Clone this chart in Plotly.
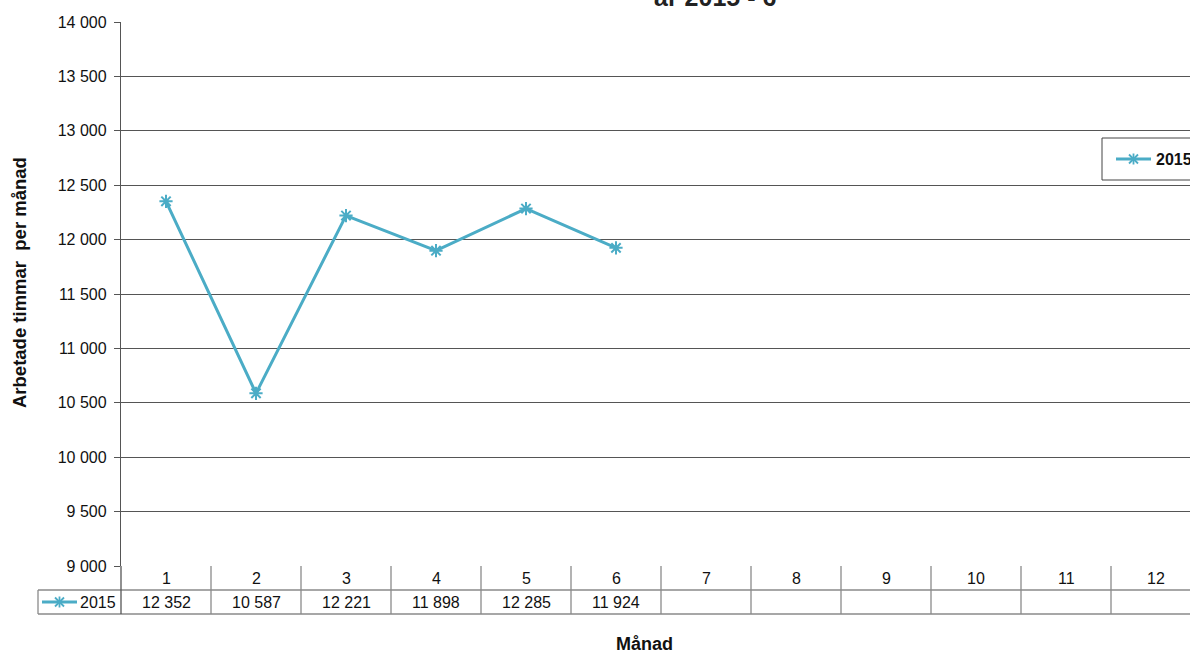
import plotly.graph_objects as go

# ---- data ----
months = [1, 2, 3, 4, 5, 6, 7, 8, 9, 10, 11, 12]
hours_2015 = [12352, 10587, 12221, 11898, 12285, 11924]
series_name = "2015"
y_ticks = [9000, 9500, 10000, 10500, 11000, 11500, 12000, 12500, 13000, 13500, 14000]
title_text = "år 2015 - 6"
x_title = "Månad"
y_title = "Arbetade timmar  per månad"

# ---- layout constants (pixels) ----
W, H = 1190, 653
L, R, T, B = 121, 0, 22, 87
PW, PH = W - L - R, H - T - B
COLW = 90.0
COLOR = "#4bacc6"
GRID = "#555555"
TABLE = "#8a8a8a"
FONT = "Liberation Sans, Arial, sans-serif"
TXT = "#111111"


def px(xp):
    return (xp - L) / PW


def py(yp):
    return (T + PH - yp) / PH


def fmt(v):
    return f"{v:,}".replace(",", " ")


fig = go.Figure()

fig.add_trace(go.Scatter(
    x=months[:len(hours_2015)], y=hours_2015, mode="lines+markers",
    line=dict(color=COLOR, width=3),
    marker=dict(symbol="asterisk-open", size=11, color=COLOR, line=dict(color=COLOR, width=2)),
    showlegend=False, name=series_name,
))

shapes = []


def key_symbol(x0, x1, yc):
    xc = (x0 + x1) / 2
    shapes.append(dict(type="line", xref="paper", yref="paper", x0=px(x0), x1=px(x1),
                       y0=py(yc), y1=py(yc), line=dict(color=COLOR, width=3)))
    for (ax, ay, bx, by) in [(0, -5.5, 0, 5.5), (-4.5, -4.5, 4.5, 4.5), (-4.5, 4.5, 4.5, -4.5)]:
        shapes.append(dict(type="line", xref="paper", yref="paper",
                           x0=px(xc + ax), x1=px(xc + bx), y0=py(yc + ay), y1=py(yc + by),
                           line=dict(color=COLOR, width=1.8)))


# legend box
shapes.append(dict(type="rect", xref="paper", yref="paper", x0=px(1102), x1=px(1260),
                   y0=py(180), y1=py(138), line=dict(color="#444444", width=1)))
key_symbol(1116, 1151, 159)
key_symbol(42, 77, 602)

# table horizontal lines
for yy in (590, 614):
    shapes.append(dict(type="line", xref="paper", yref="paper", x0=px(38), x1=1.05,
                       y0=py(yy), y1=py(yy), line=dict(color=TABLE, width=1.3)))
# table left border of key cell
shapes.append(dict(type="line", xref="paper", yref="paper", x0=px(38), x1=px(38),
                   y0=py(590), y1=py(614), line=dict(color=TABLE, width=1.3)))
# axis line extension through table
shapes.append(dict(type="line", xref="paper", yref="paper", x0=0, x1=0,
                   y0=0, y1=py(614), line=dict(color="#555555", width=1.3)))
# column separators
for k in months:
    shapes.append(dict(type="line", xref="x", yref="paper", x0=k + 0.5, x1=k + 0.5,
                       y0=0, y1=py(614), line=dict(color=TABLE, width=1.3)))

annotations = []


def ann(x, y, text, size, xref="paper", xanchor="center", yanchor="middle", angle=0, color=TXT):
    annotations.append(dict(x=x, y=y, xref=xref, yref="paper", text=text, showarrow=False,
                            xanchor=xanchor, yanchor=yanchor, textangle=angle,
                            font=dict(size=size, color=color, family=FONT)))


for k in months:
    ann(k, py(578), str(k), 16, xref="x")
for k, v in zip(months, hours_2015):
    ann(k, py(602), fmt(v), 16, xref="x")
ann(px(118), py(602), series_name, 16, xanchor="right")
ann(px(1154), py(159), "<b>" + series_name + "</b>", 16, xanchor="left")
ann(px(715), py(-3), "<b>" + title_text + "</b>", 25, color="#222222")
ann(px(644), py(644), "<b>" + x_title + "</b>", 18)
ann(px(19), py(283), "<b>" + y_title + "</b>", 18.5, angle=-90)

fig.update_layout(
    width=W, height=H,
    margin=dict(l=L, r=R, t=T, b=B, pad=0),
    paper_bgcolor="white", plot_bgcolor="white",
    separators=", ",
    font=dict(family=FONT, size=16, color=TXT),
    showlegend=False,
    xaxis=dict(range=[0.5, 0.5 + PW / COLW], showgrid=False, zeroline=False,
               showticklabels=False, ticks="", showline=False, fixedrange=True),
    yaxis=dict(range=[9000, 14000], tickvals=y_ticks, ticktext=[fmt(v) for v in y_ticks],
               showgrid=True, gridcolor=GRID, gridwidth=1, zeroline=False,
               ticks="outside", ticklen=6, tickcolor="#555555",
               showline=True, linecolor="#555555", linewidth=1.3,
               tickfont=dict(size=16, family=FONT, color=TXT), ticklabelstandoff=4),
    shapes=shapes,
    annotations=annotations,
)

fig.write_html("out.html", config={"displayModeBar": False},
               post_script="document.body.style.margin='0';document.body.style.overflow='hidden';")
